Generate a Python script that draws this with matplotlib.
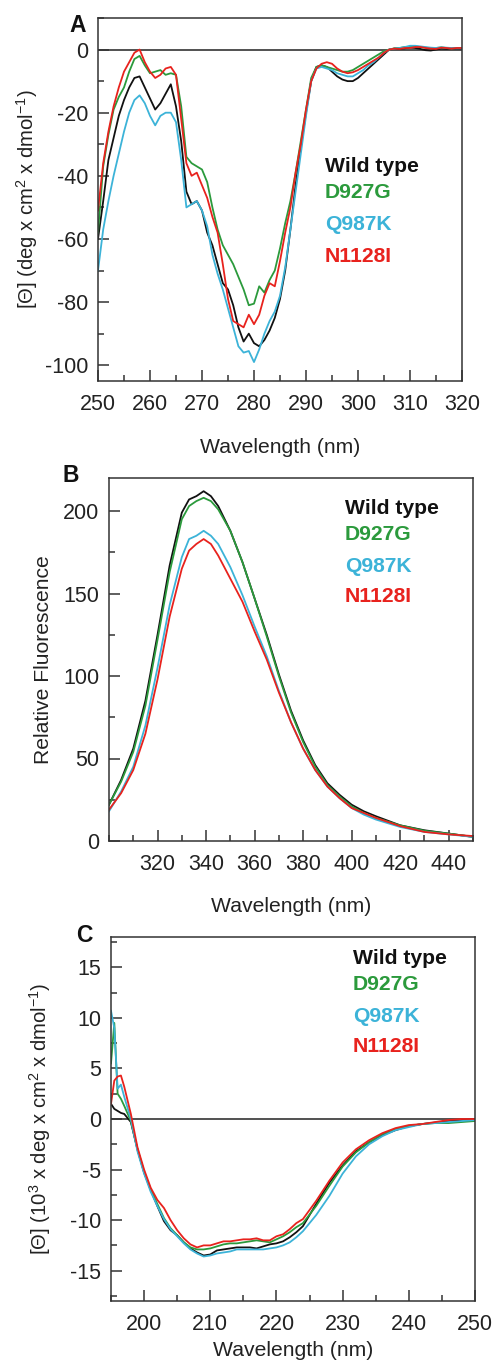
import matplotlib
matplotlib.use("Agg")
import matplotlib.pyplot as plt
from matplotlib.ticker import MultipleLocator

plt.rcParams['font.family'] = ['Liberation Sans', 'DejaVu Sans']
plt.rcParams['axes.unicode_minus'] = False
plt.rcParams['mathtext.default'] = 'regular'

names = ["Wild type", "D927G", "Q987K", "N1128I"]
colors = ["#111111", "#2b9a3c", "#3cb3d8", "#e8221d"]

# panel A: near-UV CD, 250-320 nm
wl_a = [250, 251, 252, 253, 254, 255, 256, 257, 258, 259, 260, 261, 262, 263, 264, 265,
        266, 267, 268, 269, 270, 271, 272, 273, 274, 275, 276, 277, 278, 279, 280, 281,
        282, 283, 284, 285, 286, 287, 288, 289, 290, 291, 292, 293, 294, 295, 296, 297,
        298, 299, 300, 301, 302, 303, 304, 305, 306, 307, 308, 309, 310, 311, 312, 313,
        314, 315, 316, 317, 318, 319, 320]
wt_a = [-60, -48, -35, -28, -21, -16, -12, -9, -8.5, -12, -15.5, -19, -17, -14, -11, -18,
        -29, -45, -49, -48, -51, -58, -62, -68, -74, -76, -81, -88, -92.5, -90, -93, -94,
        -92, -89, -85, -79, -70, -57, -43, -31, -20, -10, -5.5, -5, -5.5, -7, -8.5, -9.5,
        -10, -10, -9, -7.5, -6, -4.5, -3, -1.5, 0, 0.3, 0.2, 0.4, 0.6, 0.5, 0.2, -0.2,
        -0.3, 0, 0.3, 0.2, 0.4, 0.3, 0.4]
d927g_a = [-58, -37, -27, -19, -15, -12, -7, -3, -2, -5, -7.5, -7, -6.5, -8, -7.5, -8,
           -18, -34, -36, -37, -38, -42, -50, -57, -62, -65, -68, -72, -76, -81, -80.5, -75,
           -77, -73, -70, -63, -55, -48, -39, -29, -19, -9, -5.5, -5, -5.5, -6, -6.5, -7,
           -7, -6.5, -5.5, -4.5, -3.5, -2.5, -1.5, -0.5, 0, 0.4, 0.5, 0.8, 0.9, 1.0, 0.8, 0.6,
           0.4, 0.5, 0.7, 0.5, 0.4, 0.5, 0.5]
q987k_a = [-70, -57, -48, -40, -33, -26, -20, -16, -14.5, -17, -21, -24, -21, -20, -20, -23,
           -35, -50, -49, -48, -51, -56, -65, -71, -76, -82, -88, -94, -96, -95.5, -99, -95,
           -90, -86, -83, -78, -69, -57, -45, -33, -21, -10, -6, -5.5, -6, -6.5, -7.5, -8,
           -8.5, -8.5, -7.5, -6.5, -5, -4, -2.5, -1, 0, 0.3, 0.5, 0.8, 1.2, 1.2, 1.0, 0.8,
           0.6, 0.5, 0.7, 0.6, 0.5, 0.4, 0.5]
n1128i_a = [-51, -36, -26, -18, -12, -7, -4, -1, 0, -4, -7, -9, -8, -6, -5.5, -8,
            -22, -36, -40, -39, -43, -47, -53, -58, -68, -79, -86, -87, -88, -84, -87, -84,
            -78, -74, -75, -67, -58, -50, -39, -30, -19, -10, -6, -4.5, -4, -4.5, -6, -7,
            -7.5, -7.2, -6.5, -5.5, -4.5, -3.5, -2.5, -1, 0, 0.3, 0.2, 0.5, 0.5, 0.8, 0.8, 0.5,
            0.3, 0.2, 0.6, 0.5, 0.3, 0.5, 0.5]

# panel B: intrinsic fluorescence
wl_b = [300, 305, 310, 315, 320, 325, 330, 333, 336, 339, 342, 345, 350, 355, 360, 365,
        370, 375, 380, 385, 390, 395, 400, 405, 410, 420, 430, 440, 450]
wt_b = [22, 37, 56, 85, 125, 167, 199, 207, 209, 212, 209, 203, 188, 169, 147, 125,
        101, 79, 61, 46, 35, 28, 22, 18, 15, 9.5, 6.5, 4.5, 2.5]
d927g_b = [22, 36, 54, 82, 122, 163, 195, 203, 206, 208, 206, 201, 188, 169, 147, 124,
           100, 78, 60, 45, 34, 27, 21, 17, 14, 9.5, 6.2, 4.5, 2.5]
q987k_b = [18, 30, 45, 70, 105, 143, 172, 183, 185, 188, 185, 180, 166, 149, 130, 112,
           91, 72, 56, 43, 33, 26, 20, 16, 13, 8.5, 5.5, 4, 2.5]
n1128i_b = [19, 29, 43, 65, 98, 136, 165, 176, 180, 183, 180, 173, 159, 145, 127, 110,
            90, 72, 56, 43, 33, 26, 20, 17, 14, 9, 5.5, 4, 3]

# panel C: far-UV CD
wl_c = [195, 195.5, 196, 196.5, 197, 198, 199, 200, 201, 202, 203, 204, 205, 206, 207,
        208, 209, 210, 211, 212, 213, 214, 215, 216, 217, 218, 219, 220, 221, 222, 223,
        224, 226, 228, 230, 232, 234, 236, 238, 240, 242, 244, 246, 248, 250]
wt_c = [1.5, 1.0, 0.8, 0.6, 0.5, -0.3, -3, -5.3, -7.0, -8.6, -10.1, -11.0, -11.5, -12.2, -12.8,
        -13.2, -13.5, -13.4, -13.0, -12.9, -12.8, -12.7, -12.7, -12.7, -12.8, -12.6, -12.4, -12.3, -12.1, -11.7, -11.2,
        -10.6, -8.4, -6.3, -4.6, -3.2, -2.3, -1.6, -1.1, -0.7, -0.5, -0.35, -0.2, -0.1, 0]
d927g_c = [5.5, 9.5, 2.5, 2.0, 1.3, -0.2, -3, -5.2, -7, -8.4, -9.8, -10.8, -11.5, -12.2, -12.7,
           -12.9, -12.9, -12.8, -12.6, -12.4, -12.3, -12.3, -12.2, -12.1, -12.0, -12.1, -12.2, -11.9, -11.6, -11.2, -10.7,
           -10.3, -8.6, -6.6, -4.7, -3.3, -2.3, -1.5, -1.0, -0.7, -0.5, -0.4, -0.4, -0.3, -0.2]
q987k_c = [10.7, 9.0, 3.0, 3.4, 2.2, 0, -3.2, -5.4, -7.2, -8.6, -9.9, -10.9, -11.6, -12.3, -12.9,
           -13.3, -13.6, -13.5, -13.3, -13.2, -13.1, -12.9, -12.9, -12.9, -12.9, -12.9, -12.8, -12.7, -12.5, -12.2, -11.7,
           -11.1, -9.5, -7.6, -5.4, -3.7, -2.5, -1.7, -1.1, -0.8, -0.5, -0.4, -0.3, -0.2, -0.1]
n1128i_c = [1.5, 3.8, 4.2, 4.3, 3.2, 0.5, -2.8, -5, -6.8, -8.0, -8.8, -10, -11, -11.8, -12.4,
            -12.7, -12.5, -12.5, -12.3, -12.1, -12.1, -12.0, -11.9, -11.9, -11.8, -12.0, -12.0, -11.6, -11.4, -10.9, -10.3,
            -9.9, -8.1, -6.1, -4.3, -3.0, -2.1, -1.4, -0.9, -0.6, -0.5, -0.3, -0.1, 0, 0]

W, H = 494, 1363
fig = plt.figure(figsize=(W / 100, H / 100), dpi=100)


def box(l, t, r, b):
    return [l / W, 1 - b / H, (r - l) / W, (b - t) / H]


def ftext(x, y, s, **kw):
    fig.text(x / W, 1 - y / H, s, **kw)


def panel(rect, wl, series, xlim, ylim, xmaj, xmin, ymaj, ymin, zero_line):
    ax = fig.add_axes(rect)
    if zero_line:
        ax.axhline(0, color="#222222", lw=1.1, zorder=1)
    for ys, c in zip(series, colors):
        ax.plot(wl, ys, color=c, lw=1.3, zorder=2)
    ax.set_xlim(*xlim)
    ax.set_ylim(*ylim)
    ax.set_xticks(xmaj)
    ax.xaxis.set_minor_locator(MultipleLocator(xmin))
    ax.set_yticks(ymaj)
    ax.yaxis.set_minor_locator(MultipleLocator(ymin))
    ax.tick_params(which="both", direction="in", colors="#333333", labelcolor="#222222",
                   labelsize=15.5, width=1.1)
    ax.tick_params(which="major", length=8)
    ax.tick_params(which="minor", length=4.5)
    ax.tick_params(axis="x", pad=9)
    ax.tick_params(axis="y", pad=7)
    for sp in ax.spines.values():
        sp.set_color("#333333")
        sp.set_linewidth(1.1)
    return ax


# A
axA = panel(box(98, 18, 462, 381), wl_a, [wt_a, d927g_a, q987k_a, n1128i_a],
            (250, 320), (-105, 10), range(250, 321, 10), 5, range(-100, 1, 20), 10, True)
# B
axB = panel(box(109, 478, 473, 841), wl_b, [wt_b, d927g_b, q987k_b, n1128i_b],
            (300, 450), (0, 220), range(320, 441, 20), 10, range(0, 201, 50), 25, False)
# C
axC = panel(box(111, 937, 475, 1301), wl_c, [wt_c, d927g_c, q987k_c, n1128i_c],
            (195, 250), (-18, 18), range(200, 251, 10), 5, range(-15, 16, 5), 2.5, True)

# axis labels
lab = dict(fontsize=15.2, color="#222222", ha="center", va="center")
ftext(280, 447, "Wavelength (nm)", **lab)
ftext(291, 907, "Wavelength (nm)", **lab)
ftext(293, 1350, "Wavelength (nm)", **lab)
ftext(27, 199, "[Θ] (deg x cm$^{2}$ x dmol$^{-1}$)", rotation=90,
      **dict(lab, fontsize=14.6))
ftext(44, 660, "Relative Fluorescence", rotation=90, **lab)
ftext(40, 1119, "[Θ] (10$^{3}$ x deg x cm$^{2}$ x dmol$^{-1}$)", rotation=90,
      **dict(lab, fontsize=14.6))

# panel letters
let = dict(fontsize=16.5, fontweight="bold", color="#111111", ha="left", va="center")
ftext(69, 25, "A", **let)
ftext(62, 475, "B", **let)
ftext(76, 935, "C", **let)

# legend text
for (x0, ys) in [(325, [167, 193, 225, 256]), (345, [509, 535, 567, 597]), (353, [959, 985, 1017, 1047])]:
    for n, c, y in zip(names, colors, ys):
        ftext(x0, y, n, fontsize=15.2, fontweight="bold", color=c, ha="left", va="center")

fig.savefig("out.png", dpi=100)
